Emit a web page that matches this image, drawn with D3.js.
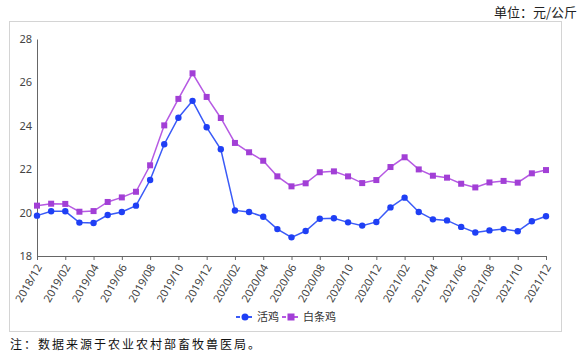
<!DOCTYPE html>
<html>
    <head>
        <title>Chicken prices</title>
        <meta charset="UTF-8">
        <script type="text/javascript" src="https://cdn.jsdelivr.net/npm/d3@7"></script>
        <style type="text/css">
            body { margin: 0; background: #fff; }
            text { font-family: "Noto Sans", "Noto Sans CJK SC", sans-serif; }
        </style>
    </head>
    <body>
        <div id="chart"></div>

        <script type="text/javascript">

            var svgW = 584; //svg width
            var svgH = 363; //svg height

            //months, one per point
            var months = ["2018/12",
                "2019/01", "2019/02", "2019/03", "2019/04", "2019/05", "2019/06",
                "2019/07", "2019/08", "2019/09", "2019/10", "2019/11", "2019/12",
                "2020/01", "2020/02", "2020/03", "2020/04", "2020/05", "2020/06",
                "2020/07", "2020/08", "2020/09", "2020/10", "2020/11", "2020/12",
                "2021/01", "2021/02", "2021/03", "2021/04", "2021/05", "2021/06",
                "2021/07", "2021/08", "2021/09", "2021/10", "2021/11", "2021/12"];

            //活鸡 live chicken, yuan / kg
            var liveChicken = [19.86,
                20.06, 20.06, 19.54, 19.52, 19.89, 20.03,
                20.32, 21.50, 23.15, 24.37, 25.15, 23.93,
                22.92, 20.10, 20.03, 19.81, 19.24, 18.86,
                19.15, 19.72, 19.74, 19.55, 19.40, 19.57,
                20.24, 20.69, 20.03, 19.69, 19.64, 19.34,
                19.08, 19.18, 19.24, 19.14, 19.60, 19.83];

            //白条鸡 dressed chicken, yuan / kg
            var dressedChicken = [20.32,
                20.41, 20.40, 20.04, 20.07, 20.49, 20.70,
                20.96, 22.18, 24.02, 25.24, 26.42, 25.33,
                24.36, 23.21, 22.78, 22.39, 21.67, 21.21,
                21.35, 21.86, 21.90, 21.67, 21.36, 21.50,
                22.10, 22.55, 21.99, 21.70, 21.61, 21.33,
                21.16, 21.39, 21.46, 21.38, 21.81, 21.96];

            var yTicks = [18, 20, 22, 24, 26, 28];
            var seriesNames = ["活鸡", "白条鸡"];

            var blue = "#1f3ff5", blueLine = "#3a5af7";
            var purple = "#a23fd6", purpleLine = "#b65ae3";

            var svg = d3.select("#chart").append("svg")
                    .attr("width", svgW)
                    .attr("height", svgH);

            // unit label, top right
            svg.append("text")
                    .attr("x", 577).attr("y", 17)
                    .attr("text-anchor", "end")
                    .attr("font-size", 13)
                    .attr("fill", "#222")
                    .style("font-family", "'Noto Sans CJK SC', sans-serif")
                    .text("单位：元/公斤");

            // outer frame
            svg.append("rect")
                    .attr("x", 9.5).attr("y", 21.5)
                    .attr("width", 552).attr("height", 310)
                    .attr("fill", "none")
                    .attr("stroke", "#d4d4d4");

            var x = d3.scalePoint().domain(months).range([37, 546]);
            var y = d3.scaleLinear().domain([18, 28]).range([256, 39]);

            // y axis
            var yAxis = svg.append("g")
                    .attr("transform", "translate(37,0)")
                    .call(d3.axisLeft(y).tickValues(yTicks).tickSize(0).tickPadding(5));
            yAxis.select(".domain").attr("stroke", "#666");
            yAxis.selectAll("text").attr("font-size", 11).attr("fill", "#444")
                    .style("font-family", "'Noto Sans', sans-serif");

            // x axis, label every 2nd month
            var xAxis = svg.append("g")
                    .attr("transform", "translate(0,256)")
                    .call(d3.axisBottom(x)
                            .tickValues(months.filter(function (d, i) { return i % 2 === 0; }))
                            .tickSizeOuter(0).tickSize(4));
            xAxis.selectAll("path, line").attr("stroke", "#666");
            xAxis.selectAll("text")
                    .attr("font-size", 11).attr("fill", "#444")
                    .attr("text-anchor", "end")
                    .attr("dy", 0)
                    .attr("transform", "translate(5,11) rotate(-60)")
                    .attr("y", 0).attr("x", 0);

            var line = d3.line()
                    .x(function (d, i) { return x(months[i]); })
                    .y(function (d) { return y(d); });

            // 白条鸡 line + squares
            svg.append("path").datum(dressedChicken)
                    .attr("d", line).attr("fill", "none")
                    .attr("stroke", purpleLine).attr("stroke-width", 1.5);
            svg.selectAll("rect.sq").data(dressedChicken).enter()
                    .append("rect").attr("class", "sq")
                    .attr("x", function (d, i) { return x(months[i]) - 3; })
                    .attr("y", function (d) { return y(d) - 3; })
                    .attr("width", 6).attr("height", 6)
                    .attr("fill", purple);

            // 活鸡 line + circles
            svg.append("path").datum(liveChicken)
                    .attr("d", line).attr("fill", "none")
                    .attr("stroke", blueLine).attr("stroke-width", 1.5);
            svg.selectAll("circle.pt").data(liveChicken).enter()
                    .append("circle").attr("class", "pt")
                    .attr("cx", function (d, i) { return x(months[i]); })
                    .attr("cy", function (d) { return y(d); })
                    .attr("r", 3.2)
                    .attr("fill", blue);

            // legend
            var lg = svg.append("g").attr("transform", "translate(0,317)");
            var lgX = [236, 282];
            var lgCol = [blueLine, purpleLine];
            seriesNames.forEach(function (name, k) {
                lg.append("line")
                        .attr("x1", lgX[k]).attr("x2", lgX[k] + 18)
                        .attr("y1", 0).attr("y2", 0)
                        .attr("stroke", lgCol[k]).attr("stroke-width", 2)
                        .attr("stroke-dasharray", "4,2");
                if (k === 0) {
                    lg.append("circle").attr("cx", lgX[k] + 9).attr("cy", 0)
                            .attr("r", 3.5).attr("fill", blue);
                } else {
                    lg.append("rect").attr("x", lgX[k] + 5.5).attr("y", -3.5)
                            .attr("width", 7).attr("height", 7).attr("fill", purple);
                }
                lg.append("text")
                        .attr("x", lgX[k] + 21).attr("y", 4)
                        .attr("font-size", 11).attr("fill", "#333")
                        .style("font-family", "'Noto Sans CJK SC', sans-serif")
                        .text(name);
            });

            // source note
            svg.append("text")
                    .attr("x", 10).attr("y", 349)
                    .attr("font-size", 12).attr("fill", "#111")
                    .attr("letter-spacing", 2)
                    .style("font-family", "'Noto Sans CJK SC', sans-serif")
                    .text("注：数据来源于农业农村部畜牧兽医局。");
        </script>

    </body>
</html>
